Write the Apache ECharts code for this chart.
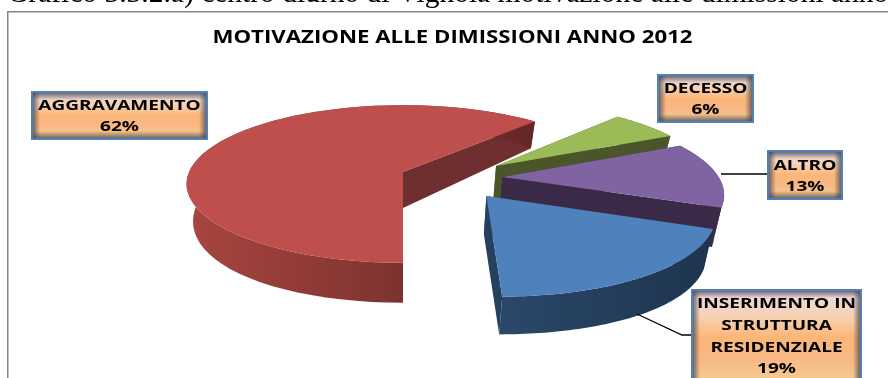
<!DOCTYPE html>
<html>
<head>
<meta charset="utf-8">
<style>html,body{margin:0;padding:0;background:#fff}#chart{width:888px;height:378px}</style>
<script src="https://cdn.jsdelivr.net/npm/echarts@6/dist/echarts.min.js"></script>
</head>
<body>
<div id="chart"></div>
<script>
// Dimission reasons, percent of the total
const categories = ['AGGRAVAMENTO', 'DECESSO', 'ALTRO', 'INSERIMENTO IN\nSTRUTTURA\nRESIDENZIALE'];
const shares = [62, 6, 13, 19];
const chartTitle = 'MOTIVAZIONE ALLE DIMISSIONI ANNO 2012';
const pageCaption = 'Grafico 3.3.2.a) centro diurno di Vignola motivazione alle dimissioni anno';

// Slice appearance and how far each one is pulled out of the disc
const topColors = ['#be4f4d', '#9bbb59', '#8064a2', '#4f81bd'];
const sideColors = ['#6f2e2f', '#4a5629', '#3a2a47', '#25415f'];
const rimColors = [['#a8453f', '#632727'], ['#4a5629', '#4a5629'], ['#3a2a47', '#3a2a47'], ['#2a4869', '#1e344e']];
const explode = [[0, 0], [0.44, 0.078], [0.46, -0.065], [0.372, -0.298]];

// Label boxes: left, top, right, bottom
const boxes = [[32, 92, 207, 139], [658, 75, 753, 122], [768, 151, 842, 199], [692, 290, 861, 385]];
const leaders = [
  [[721, 174], [768, 174]],
  [[637, 314], [682, 335], [692, 335]]
];

// Perspective projection of the upper and lower faces of the disc
const view = { cx: 403, cy: 172, b: 214, a: 77, p: 0.152, drop: 36, a2: 87, p2: 0.082, shrink: 0.97 };

function upper(u, v) {
  const k = 1 + view.p * v;
  return [view.cx + view.b * u / k, view.cy - view.a * v / k];
}
function lower(u, v) {
  return [
    view.cx + view.shrink * view.b * u / (1 + view.p * v),
    view.cy + view.drop - view.a2 * v / (1 + view.p2 * v)
  ];
}

const total = shares.reduce((s, v) => s + v, 0);

function renderSlice(params, api) {
  const i = params.dataIndex;
  const value = api.value(0);
  let before = 0;
  for (let j = 0; j < i; j++) before += shares[j];
  const start = Math.PI + before / total * 2 * Math.PI;
  const end = start + value / total * 2 * Math.PI;
  const [ex, ey] = explode[i];
  const rimTop = [], rimBottom = [];
  const steps = 60;
  for (let s = 0; s <= steps; s++) {
    const t = start + (end - start) * s / steps;
    const u = ex + Math.sin(t), v = ey + Math.cos(t);
    rimTop.push(upper(u, v));
    rimBottom.push(lower(u, v));
  }
  const apexTop = upper(ex, ey), apexBottom = lower(ex, ey);
  const sideWall = (top, bottom) => ({
    type: 'polygon',
    shape: { points: [apexTop, top, bottom, apexBottom] },
    style: { fill: sideColors[i] }
  });
  return {
    type: 'group',
    children: [
      sideWall(rimTop[0], rimBottom[0]),
      sideWall(rimTop[steps], rimBottom[steps]),
      {
        type: 'polygon',
        shape: { points: rimTop.concat(rimBottom.slice().reverse()) },
        style: {
          fill: {
            type: 'linear', x: 0, y: 0, x2: 1, y2: 0,
            colorStops: [{ offset: 0, color: rimColors[i][0] }, { offset: 1, color: rimColors[i][1] }]
          }
        }
      },
      {
        type: 'polygon',
        shape: { points: [apexTop].concat(rimTop) },
        style: { fill: topColors[i] }
      }
    ]
  };
}

// One label: blue frame, banded orange fill, darkened inner edges, centred text
function labelBox(i) {
  const [l, t, r, b] = boxes[i];
  const w = r - l, h = b - t;
  const edge = 8;
  const shade = 'rgba(70,70,80,0.85)', clear = 'rgba(70,70,80,0)';
  const fade = (x, y, x2, y2) => ({
    type: 'linear', x, y, x2, y2,
    colorStops: [{ offset: 0, color: shade }, { offset: 1, color: clear }]
  });
  return [
    {
      type: 'rect', z: 20, shape: { x: l, y: t, width: w, height: h },
      style: {
        fill: {
          type: 'linear', x: 0, y: 0, x2: 0, y2: 1,
          colorStops: [
            { offset: 0, color: '#ead9e2' },
            { offset: 0.28, color: '#f6d2b4' },
            { offset: 0.5, color: '#fbb677' },
            { offset: 0.72, color: '#f8b885' },
            { offset: 1, color: '#f5d092' }
          ]
        }
      }
    },
    { type: 'rect', z: 21, shape: { x: l, y: t, width: edge, height: h }, style: { fill: fade(0, 0, 1, 0) } },
    { type: 'rect', z: 21, shape: { x: r - edge, y: t, width: edge, height: h }, style: { fill: fade(1, 0, 0, 0) } },
    { type: 'rect', z: 21, shape: { x: l, y: t, width: w, height: edge }, style: { fill: fade(0, 0, 0, 1) } },
    { type: 'rect', z: 21, shape: { x: l, y: b - edge, width: w, height: edge }, style: { fill: fade(0, 1, 0, 0) } },
    {
      type: 'rect', z: 22, shape: { x: l, y: t, width: w, height: h },
      style: { fill: 'none', stroke: '#4f81bd', lineWidth: 2 }
    },
    {
      type: 'text', z: 23, x: (l + r) / 2, y: i === 3 ? t + 46.5 : t + h / 2 + 1, scaleX: 1.27,
      style: {
        text: categories[i] + '\n' + shares[i] + '%',
        font: 'bold 15px "Open Sans"', lineHeight: i === 3 ? 21.6 : 21,
        fill: '#000', align: 'center', verticalAlign: 'middle'
      }
    }
  ];
}

const graphics = [
  { type: 'rect', z: 1, shape: { x: 7, y: 11, width: 881, height: 1.5 }, style: { fill: '#858585' } },
  { type: 'rect', z: 1, shape: { x: 7, y: 11, width: 1.5, height: 367 }, style: { fill: '#858585' } },
  {
    type: 'text', z: 2, x: 7, y: -21,
    style: { text: pageCaption, font: '29.5px "Liberation Serif"', fill: '#000', align: 'left', verticalAlign: 'top' }
  },
  {
    type: 'text', z: 2, x: 452.5, y: 38, scaleX: 1.27,
    style: { text: chartTitle, font: 'bold 17.5px "Open Sans"', fill: '#000', align: 'center', verticalAlign: 'middle' }
  }
];
leaders.forEach(points => graphics.push({
  type: 'polyline', z: 15, shape: { points },
  style: { stroke: '#000', lineWidth: 1.3, fill: 'none' }
}));
categories.forEach((_, i) => graphics.push(...labelBox(i)));

const chart = echarts.init(document.getElementById('chart'), null, { renderer: 'canvas' });
chart.setOption({
  backgroundColor: '#ffffff',
  animation: false,
  graphic: { elements: graphics },
  series: [{
    type: 'custom',
    coordinateSystem: 'none',
    renderItem: renderSlice,
    silent: true,
    data: shares.map((v, i) => ({ name: categories[i], value: [v] }))
  }]
});
</script>
</body>
</html>
